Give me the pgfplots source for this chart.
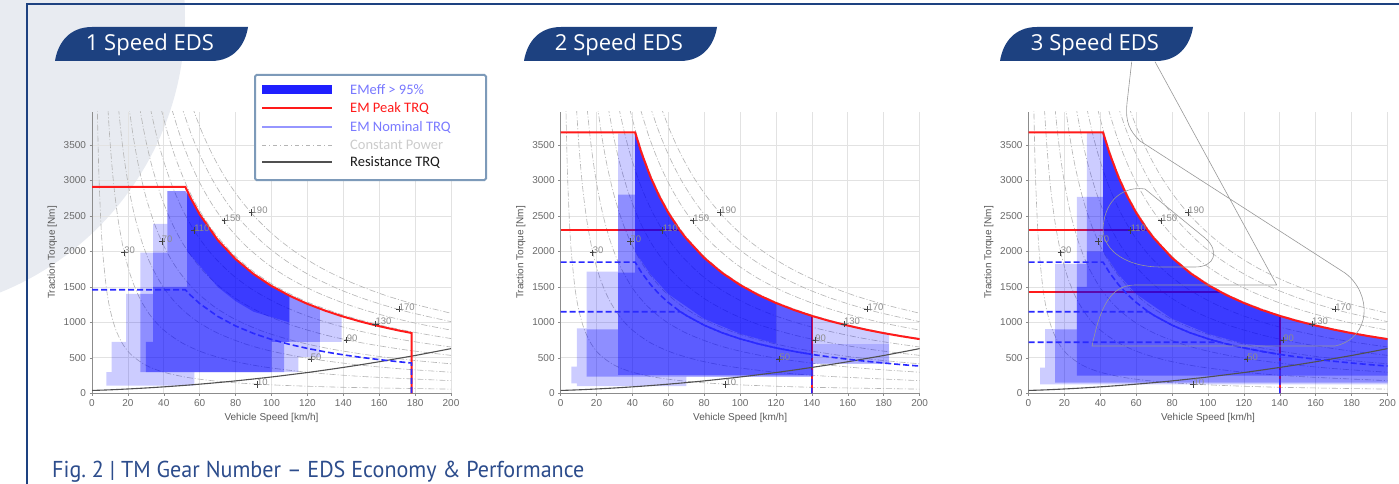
\documentclass[border=0pt]{standalone}
\usepackage{pgfplots}
\pgfplotsset{compat=1.18}
\usepackage{fontspec}
\setmainfont{Liberation Sans}
\newfontfamily\tabfont{Open Sans}
\newfontfamily\legfont{Carlito}
\newfontfamily\capfont{PT Sans}[FakeStretch=0.96]

\definecolor{navy}{HTML}{1D4180}
\definecolor{bgcircle}{HTML}{E8EBF1}
\definecolor{cpgray}{HTML}{B4B4B4}
\definecolor{tickgray}{HTML}{6A6A6A}
\definecolor{gridgray}{HTML}{E2E2E2}
\definecolor{peakred}{HTML}{FF1A1A}
\definecolor{nomblue}{HTML}{2A2AFF}
\definecolor{resgray}{HTML}{505050}
\definecolor{legborder}{HTML}{7D9AB9}
\definecolor{capblue}{HTML}{2C4C8C}

\pgfplotsset{
  eds/.style={
    scale only axis, width=359pt, height=281.6pt,
    xmin=0, xmax=200, ymin=0, ymax=3970,
    xtick={0,20,...,200}, ytick={0,500,...,3500},
    grid=major, major grid style={gridgray, line width=0.7pt},
    axis lines=left, axis line style={-, draw=black!45, line width=1pt},
    tick style={black!45, line width=0.6pt}, tick align=outside, major tick length=2.5pt,
    tick label style={font=\fontsize{10}{11}\selectfont, text=tickgray},
    /pgf/number format/assume math mode=true,
    /pgf/number format/1000 sep={},
    xlabel={Vehicle Speed [km/h]}, ylabel={Traction Torque [Nm]},
    label style={font=\fontsize{10}{12}\selectfont, text=black!65},
  },
  cp/.style={cpgray, line width=0.6pt, dash pattern=on 6pt off 2pt on 1pt off 2pt, smooth},
  hm/.style={draw=none, fill=blue, fill opacity=#1},
  peak/.style={peakred, line width=2pt},
  peakin/.style={peakred, line width=1.8pt},
  nom/.style={nomblue, line width=1.6pt, dash pattern=on 6pt off 3pt},
  res/.style={resgray, line width=1.1pt, smooth},
}

% constant power curves 10 ... 190 kW
\newcommand{\constpower}{%
\addplot[cp] coordinates {(2.9,4097) (3.5,3394) (4,2970) (5,2376) (6,1980) (8,1485) (10,1188) (13,914) (17,699) (22,540) (30,396) (40,297) (55,216) (75,158) (100,119) (140,85) (200,59)};
\addplot[cp] coordinates {(8.9,4004) (10,3564) (11.5,3099) (13,2742) (15,2376) (18,1980) (22,1620) (27,1320) (33,1080) (40,891) (50,713) (62,575) (77,463) (95,375) (120,297) (150,238) (200,178)};
\addplot[cp] coordinates {(14.8,4014) (16.5,3600) (18.5,3211) (21,2829) (24,2475) (28,2121) (33,1800) (40,1485) (48,1238) (58,1024) (70,849) (85,699) (100,594) (120,495) (145,410) (170,349) (200,297)};
\addplot[cp] coordinates {(20.5,4057) (23,3616) (26,3198) (30,2772) (35,2376) (41,2028) (48,1733) (57,1459) (68,1223) (80,1040) (95,875) (112,743) (132,630) (155,537) (178,467) (200,416)};
\addplot[cp] coordinates {(26.5,4035) (29.5,3624) (33,3240) (38,2814) (44,2430) (51,2096) (60,1782) (70,1527) (82,1304) (96,1114) (112,955) (130,822) (150,713) (175,611) (200,535)};
\addplot[cp] coordinates {(32.5,4021) (36,3630) (40,3267) (45,2904) (51,2562) (58,2253) (67,1950) (78,1675) (90,1452) (105,1245) (122,1071) (142,920) (165,792) (182,718) (200,653)};
\addplot[cp] coordinates {(38.5,4011) (42.5,3634) (47,3286) (53,2914) (60,2574) (68,2271) (78,1980) (90,1716) (104,1485) (120,1287) (140,1103) (160,965) (180,858) (200,772)};
\addplot[cp] coordinates {(44.5,4004) (49,3637) (54,3300) (60,2970) (67,2660) (75,2376) (85,2096) (97,1837) (110,1620) (125,1426) (142,1255) (160,1114) (180,990) (200,891)};
\addplot[cp] coordinates {(50,4039) (55,3672) (61,3311) (68,2970) (76,2657) (85,2376) (96,2104) (108,1870) (122,1655) (138,1463) (155,1303) (175,1154) (200,1010)};
\addplot[cp] coordinates {(56,4031) (61,3700) (67,3369) (74,3050) (82,2753) (91,2480) (102,2213) (114,1980) (128,1763) (144,1568) (162,1393) (180,1254) (200,1129)};
}

\newcommand{\resistance}{%
\addplot[res] coordinates {(0,40) (10,49) (20,61) (30,75) (40,91) (50,109) (60,129) (70,151) (80,175) (90,202) (100,230) (110,261) (120,293) (130,328) (140,365) (150,404) (160,445) (170,489) (180,533) (190,581) (200,630)};
}

\newcommand{\powermarks}{%
\addplot[only marks, mark=+, mark size=3.2pt, black!75, mark options={line width=0.9pt},
  point meta=explicit symbolic, nodes near coords,
  nodes near coords style={anchor=south west, font=\fontsize{9.5}{11}\selectfont, text=black!45, inner sep=0.5pt, xshift=-1pt, yshift=-2pt}]
  table[meta=lab, row sep=\\] {
v T lab\\
18 1980 30\\
39 2140 70\\
57 2293 110\\
74 2430 150\\
89 2550 190\\
171 1185 170\\
158 977 130\\
142 750 90\\
122 480 50\\
92 125 10\\
};
}

\begin{document}
\begin{tikzpicture}[x=1pt,y=1pt]
\useasboundingbox (0,0) rectangle (1399,483);
\fill[white] (0,0) rectangle (1399,483);
\fill[bgcircle] (-111,465) circle (296);
\draw[navy, line width=2.2pt] (27,-2) -- (27,479) -- (1401,479);

% ---------------- 1 Speed EDS ----------------
\begin{axis}[eds, at={(92pt,89.7pt)}, anchor=south west]
\constpower
\addplot[hm=0.2] coordinates {(8,110) (8,300) (11,300) (11,725) (19,725) (19,1400) (27,1400) (27,1985) (34,1985) (34,2390) (42,2390) (42,2850) (52,2850) (55,2751) (60,2522) (70,2162) (80,1892) (90,1681) (100,1513) (110,1376) (120,1261) (130,1164) (139,1088) (139,725) (127,725) (127,510) (115,510) (115,300) (57,300) (57,110)} -- cycle;
\addplot[hm=0.3] coordinates {(27,300) (27,1400) (34,1400) (34,1985) (42,1985) (42,2850) (52,2850) (55,2751) (60,2522) (70,2162) (80,1892) (90,1681) (100,1513) (110,1376) (120,1261) (127,1190) (127,725) (107,725) (107,300)} -- cycle;
\addplot[hm=0.35] coordinates {(30,300) (30,725) (34,725) (34,1500) (53,1500) (53,2830) (55,2751) (60,2522) (70,2162) (80,1892) (90,1681) (100,1513) (110,1376) (110,725) (100,725) (100,300)} -- cycle;
\addplot[hm=0.35] coordinates {(53,2830) (55,2751) (60,2522) (70,2162) (80,1892) (90,1681) (100,1513) (110,1376) (110,1000) (90,1150) (80,1300) (70,1500) (60,1800) (53,2000)} -- cycle;
\resistance
\addplot[peak] coordinates {(0,2910) (52,2910) (55,2751) (60,2522) (70,2162) (80,1892) (90,1681) (100,1513) (110,1376) (120,1261) (130,1164) (140,1081) (150,1009) (160,946) (170,890) (178,850) (178,0)};
\addplot[nom] coordinates {(0,1460) (52,1460) (55,1380) (60,1265) (70,1085) (80,949) (90,844) (100,759) (110,690) (120,633) (130,584) (140,542) (150,506) (160,475) (170,447) (178,427) (178,0)};
\powermarks
\end{axis}

% ---------------- 2 Speed EDS ----------------
\begin{axis}[eds, at={(560.6pt,89.7pt)}, anchor=south west]
\constpower
\addplot[peakin] coordinates {(0,2300) (66.4,2300)};
\addplot[peakin] coordinates {(140,0) (140,1091)};
\addplot[hm=0.2] coordinates {(6,140) (6,375) (9,375) (9,915) (14.5,915) (14.5,1715) (32,1715) (32,3660) (41.5,3660) (45,3394) (50,3054) (55,2777) (60,2545) (66.4,2300) (70,2182) (80,1909) (90,1697) (100,1527) (110,1388) (120,1273) (130,1175) (140,1091) (150,1018) (160,955) (170,898) (180,848) (183,835) (183,420) (141,420) (141,235) (70,235) (70,100) (9,100) (9,140)} -- cycle;
\addplot[hm=0.3] coordinates {(14.5,235) (14.5,900) (32,900) (32,2800) (41.5,2800) (41.5,3660) (45,3394) (50,3054) (55,2777) (60,2545) (66.4,2300) (70,2182) (80,1909) (90,1697) (100,1527) (110,1388) (120,1273) (130,1175) (140,1091) (140,235)} -- cycle;
\addplot[hm=0.35] coordinates {(32,260) (32,1700) (41.5,1700) (41.5,3660) (45,3394) (50,3054) (55,2777) (60,2545) (66.4,2300) (70,2182) (80,1909) (90,1697) (100,1527) (110,1388) (120,1273) (130,1175) (140,1091) (140,260)} -- cycle;
\addplot[hm=0.35] coordinates {(41.5,3660) (45,3394) (50,3054) (55,2777) (60,2545) (66.4,2300) (70,2182) (80,1909) (90,1697) (100,1527) (110,1388) (120,1273) (120,700) (100,840) (80,1050) (60,1400) (50,1680) (41.5,2000)} -- cycle;
\addplot[hm=0.15] coordinates {(140,420) (140,700) (183,700) (183,420)} -- cycle;
\resistance
\addplot[peak] coordinates {(0,3680) (41.5,3680) (45,3394) (50,3054) (55,2777) (60,2545) (66.4,2300) (70,2182) (80,1909) (90,1697) (100,1527) (110,1388) (120,1273) (130,1175) (140,1091) (150,1018) (160,955) (170,898) (180,848) (190,804) (200,764)};
\addplot[nom] coordinates {(0,1850) (41.5,1850) (45,1706) (50,1536) (55,1396) (60,1280) (66.8,1149) (70,1097) (80,960) (90,853) (100,768) (110,698) (120,640) (130,591) (140,548) (140,0)};
\addplot[nom] coordinates {(0,1150) (66.8,1150) (70,1097) (80,960) (90,853) (100,768) (110,698) (120,640) (130,591) (140,548) (150,512) (160,480) (170,452) (180,427) (190,404) (200,384)};
\powermarks
\end{axis}

% ---------------- 3 Speed EDS ----------------
\begin{axis}[eds, at={(1028.5pt,89.7pt)}, anchor=south west]
\constpower
\addplot[peakin] coordinates {(0,2300) (66.4,2300)};
\addplot[peakin] coordinates {(0,1430) (106.8,1430)};
\addplot[peakin] coordinates {(140,0) (140,1091)};
\addplot[hm=0.2] coordinates {(6.5,127) (6.5,363) (9.3,363) (9.3,905) (14.8,905) (14.8,1825) (27,1825) (27,2770) (32.5,2770) (32.5,3680) (41.5,3680) (45,3394) (50,3054) (55,2777) (60,2545) (66.4,2300) (70,2182) (80,1909) (90,1697) (100,1527) (110,1388) (120,1273) (130,1175) (140,1091) (150,1018) (160,955) (170,898) (180,848) (190,804) (200,764) (200,127)} -- cycle;
\addplot[hm=0.3] coordinates {(14.8,150) (14.8,900) (27,900) (27,1825) (32.5,1825) (32.5,2770) (41.5,2770) (41.5,3680) (45,3394) (50,3054) (55,2777) (60,2545) (66.4,2300) (70,2182) (80,1909) (90,1697) (100,1527) (110,1388) (120,1273) (130,1175) (140,1091) (150,1018) (160,955) (170,898) (180,848) (190,804) (200,764) (200,150)} -- cycle;
\addplot[hm=0.35] coordinates {(27,250) (27,1500) (32.5,1500) (32.5,2000) (41.5,2000) (41.5,3680) (45,3394) (50,3054) (55,2777) (60,2545) (66.4,2300) (70,2182) (80,1909) (90,1697) (100,1527) (110,1388) (120,1273) (130,1175) (140,1091) (150,1018) (160,955) (170,898) (180,848) (190,804) (200,764) (200,250)} -- cycle;
\addplot[hm=0.35] coordinates {(41.5,3660) (45,3394) (50,3054) (55,2777) (60,2545) (66.4,2300) (70,2182) (80,1909) (90,1697) (100,1527) (110,1388) (120,1273) (130,1175) (140,1091) (140,650) (120,700) (100,840) (80,1050) (60,1400) (50,1680) (41.5,2000)} -- cycle;
\resistance
\addplot[peak] coordinates {(0,3680) (41.5,3680) (45,3394) (50,3054) (55,2777) (60,2545) (66.4,2300) (70,2182) (80,1909) (90,1697) (100,1527) (110,1388) (120,1273) (130,1175) (140,1091) (150,1018) (160,955) (170,898) (180,848) (190,804) (200,764)};
\addplot[nom] coordinates {(0,1850) (41.5,1850) (45,1706) (50,1536) (55,1396) (60,1280) (66.8,1149) (70,1097) (80,960) (90,853) (100,768) (110,698) (120,640) (130,591) (140,548) (140,0)};
\addplot[nom] coordinates {(0,1150) (66.8,1150) (70,1097) (80,960) (90,853) (100,768) (106.6,720)};
\addplot[nom] coordinates {(0,720) (106.6,720) (110,698) (120,640) (130,591) (140,548) (150,512) (160,480) (170,452) (180,427) (190,404) (200,384)};
\powermarks
\end{axis}

% callout outlines on the third chart
\draw[black!40, line width=0.6pt] (1131.7,421.3) -- (1127,380) .. controls (1125,360) and (1130,352) .. (1140,342) -- (1345,210) .. controls (1372,190) and (1372,145) .. (1335,137) -- (1092,137) .. controls (1100,175) and (1110,198) .. (1135,198) -- (1276.7,198) -- (1155,421.3);
\draw[black!40, line width=0.6pt] (1103,255) .. controls (1105,285) and (1125,297) .. (1145,294) -- (1205,245) .. controls (1220,232) and (1215,216) .. (1195,216) -- (1160,216) .. controls (1130,216) and (1103,230) .. (1103,255) -- cycle;

% title tabs
\foreach \off/\lab in {-469/1 Speed EDS, 0/2 Speed EDS, 476/3 Speed EDS}{
  \begin{scope}[xshift=\off pt]
    \fill[navy] (524,422) .. controls (527,441) and (539,456) .. (561,456) -- (717,456) .. controls (714,437) and (702,422) .. (680,422) -- cycle;
    \node[anchor=base, inner sep=0, text=white, font=\tabfont\fontsize{22}{26}\selectfont] at (619,432) {\lab};
  \end{scope}
}

% legend
\draw[legborder, line width=2pt, fill=white, rounded corners=1.5pt] (255,303) rectangle (486,408);
\fill[blue!88!white] (262,388.5) rectangle (332,397.5);
\draw[peakred, line width=1.8pt] (262,375) -- (332,375);
\draw[color={rgb,255:red,150;green,150;blue,255}, line width=2.5pt] (262,356) -- (332,356);
\draw[cpgray, dash pattern=on 4pt off 3pt on 1pt off 3pt, line width=1pt] (262,338) -- (332,338);
\draw[resgray, line width=1.8pt] (262,321) -- (332,321);
\begin{scope}[every node/.style={anchor=west, inner sep=0, font=\legfont\fontsize{14.5}{16}\selectfont}]
  \node[text={rgb,255:red,120;green,120;blue,255}] at (350,393) {EMeff > 95\%};
  \node[text=peakred] at (350,375) {EM Peak TRQ};
  \node[text={rgb,255:red,122;green,122;blue,255}] at (350,356) {EM Nominal TRQ};
  \node[text=black!20] at (350,338) {Constant Power};
  \node[text=black!90] at (350,321) {Resistance TRQ};
\end{scope}

% caption
\node[anchor=base west, inner sep=0, text=capblue, font=\capfont\fontsize{23}{26}\selectfont] at (52,6) {Fig.~2 | TM Gear Number – EDS Economy \& Performance};
\end{tikzpicture}
\end{document}
